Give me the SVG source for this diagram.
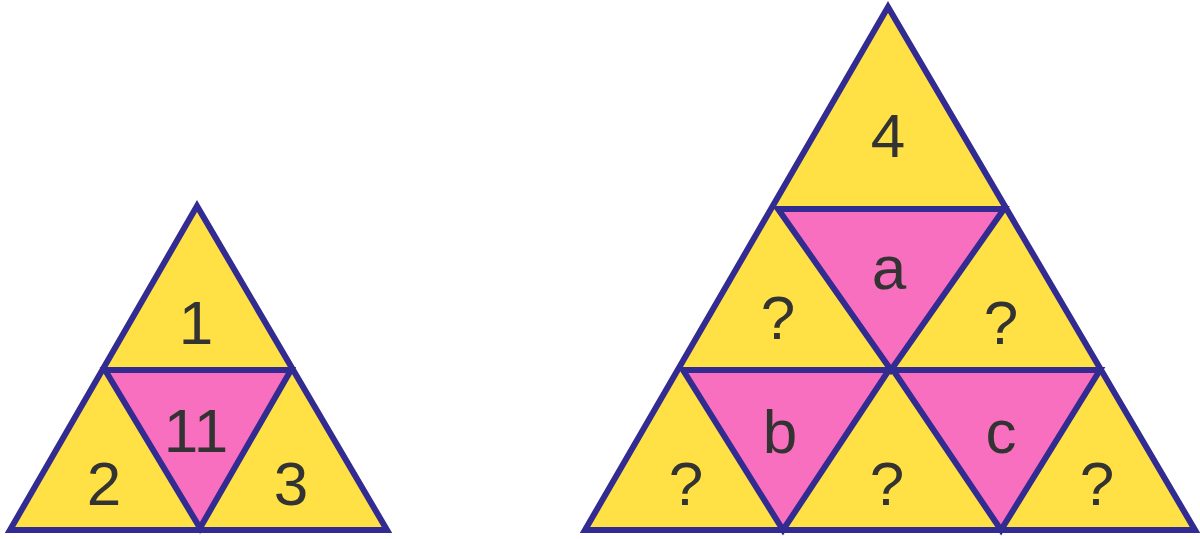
<svg xmlns="http://www.w3.org/2000/svg" width="1200" height="539" viewBox="0 0 1200 539">
<style>
.y{fill:#ffe045;stroke:#322b91;stroke-width:6;stroke-linejoin:miter}
.p{fill:#f76fbe;stroke:#322b91;stroke-width:6;stroke-linejoin:miter}
text{font-family:"Liberation Sans",Arial,sans-serif;font-size:62px;fill:#333;text-anchor:middle}
</style>
<g id="small">
<polygon class="y" points="197,206 10,530 387,530"/>
<polygon class="p" points="105,370 291,370 200,528"/>
<text x="196" y="344">1</text>
<text x="196" y="452">11</text>
<text x="104" y="505">2</text>
<text x="291" y="505">3</text>
</g>
<g id="large">
<polygon class="y" points="888,7 585,530 1195,530"/>
<polygon class="p" points="778,209 1004,209 891,370"/>
<polygon class="p" points="683,370 889,370 783,530"/>
<polygon class="p" points="893,370 1100,370 1001,530"/>
<text x="888" y="157">4</text>
<text x="889" y="289">a</text>
<text x="778" y="339">?</text>
<text x="1001" y="344">?</text>
<text x="780" y="453">b</text>
<text x="1001" y="453">c</text>
<text x="686" y="505">?</text>
<text x="887" y="505">?</text>
<text x="1097" y="505">?</text>
</g>
</svg>
